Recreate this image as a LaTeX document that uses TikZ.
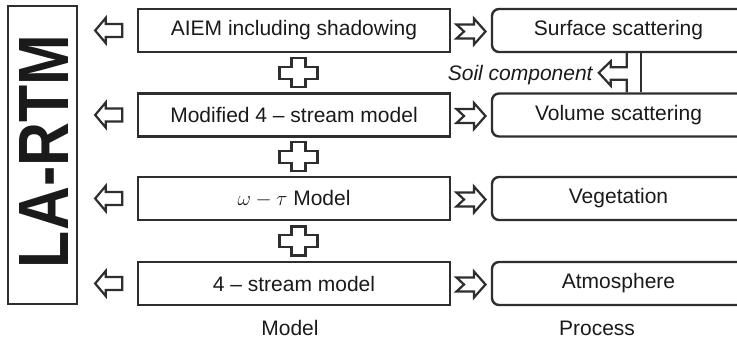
\documentclass[tikz,border=0pt]{standalone}
\usepackage{fontspec}
\usepackage{graphicx}
\setmainfont{Liberation Sans}
\usetikzlibrary{calc}
\definecolor{ink}{HTML}{2E2E2E}
\definecolor{txt}{HTML}{1A1A1A}

\begin{document}
\begin{tikzpicture}[x=1pt, y=-1pt, line join=miter,
  boxfont/.style={text=txt, font=\fontsize{21}{24}\selectfont},
  modelbox/.style={boxfont, draw=ink, line width=2.4pt, minimum width=312pt,
    minimum height=43pt, inner sep=0pt},
  procbox/.style={boxfont, draw=ink, line width=2.4pt, rounded corners=7pt,
    minimum width=253pt, minimum height=43pt, inner sep=0pt},
  hollow/.style={draw=ink, line width=2.2pt, fill=white},
  pics/larrow/.style={code={
    \draw[hollow] (-13.5,0) -- (-3,-12.5) -- (-3,-6.5) -- (13.5,-6.5)
      -- (13.5,6.5) -- (-3,6.5) -- (-3,12.5) -- cycle;}},
  pics/rarrow/.style={code={
    \draw[hollow] (14.5,0) -- (3,-13) -- (3,-7) -- (-14.5,-7) -- (-7,0)
      -- (-14.5,7) -- (3,7) -- (3,13) -- cycle;}},
  pics/plusmark/.style={code={
    \draw[hollow] (-7,-14.5) -- (7,-14.5) -- (7,-6) -- (19,-6) -- (19,6)
      -- (7,6) -- (7,14.5) -- (-7,14.5) -- (-7,6) -- (-19,6)
      -- (-19,-6) -- (-7,-6) -- cycle;}}
]
\useasboundingbox (0,0) rectangle (737,342);
\clip (0,0) rectangle (737,342);

% framework title
\node[draw=ink, line width=2.4pt, minimum width=69pt, minimum height=298pt,
  inner sep=0pt] (la) at (42.5,155) {};
\node[rotate=90, text=txt, inner sep=0pt] (latitle) at ($(la.center)+(1,-3.5)$)
  {\resizebox{233pt}{49pt}{\bfseries LA-RTM}};

% model column
\node[modelbox] (m1) at (294,30.5) {AIEM including shadowing};
\node[modelbox] (m2) at (294,115) {Modified 4 -- stream model};
\node[modelbox] (m3) at (294,198.5) {$\omega-\tau$ Model};
\node[modelbox] (m4) at (294,283.5) {4 -- stream model};

% process column
\node[procbox] (p1) at (618.5,30.5) {Surface scattering};
\node[procbox] (p2) at (618.5,115) {Volume scattering};
\node[procbox] (p3) at (618.5,198.5) {Vegetation};
\node[procbox] (p4) at (618.5,283.5) {Atmosphere};

% column captions
\node[boxfont] (mcap) at (290,328) {Model};
\node[boxfont] (pcap) at (597,328) {Process};

% arrows towards the framework box
\foreach \m in {m1,m2,m3,m4}
  \pic at ($(la.east|-\m.west)!0.52!(\m.west)$) {larrow};

% arrows from models to processes
\foreach \m/\p in {m1/p1,m2/p2,m3/p3,m4/p4}
  \pic at ($(\m.east)!0.5!(\p.west)+(0,1)$) {rarrow};

% plus signs combining the models
\foreach \a/\b in {m1/m2,m2/m3,m3/m4}
  \pic at ($($(\a.south)!0.5!(\b.north)$)+(4.5,0)$) {plusmark};

% soil component branch between surface and volume scattering
\coordinate (sTop) at ($(p1.south west)+(136,0)$);
\coordinate (sBot) at ($(p2.north west)+(136,0)$);
\coordinate (sTip) at ($(sTop)!0.5!(sBot)+(-28,0)$);
\draw[hollow] (sTop) -- ++(0,14) -- ++(-16,0) -- ++(0,-6) -- (sTip)
  -- ++(12,13) -- ++(0,-6) -- ++(16,0) -- (sBot);
\draw[draw=ink, line width=2.2pt] ($(sTop)+(14,0)$) -- ($(sBot)+(14,0)$);
\node[boxfont, anchor=east, inner sep=0pt] (soil) at ($(sTip)+(-6,2)$)
  {\itshape Soil component};
\end{tikzpicture}
\end{document}
